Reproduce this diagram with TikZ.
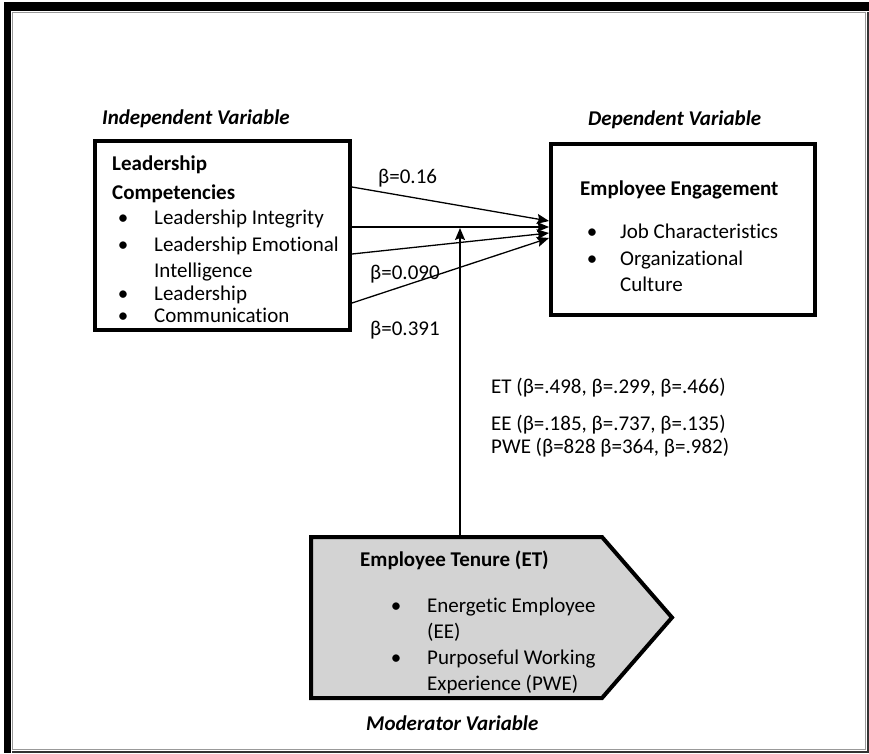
\documentclass[tikz,border=0pt]{standalone}
\usepackage{fontspec}
\setmainfont{Carlito}[Ligatures=NoCommon]
\usetikzlibrary{arrows.meta}
\definecolor{modfill}{RGB}{211,211,211}
\begin{document}
\begin{tikzpicture}[x=1pt,y=-1pt,
  txt/.style={anchor=base west, inner sep=0pt, font=\fontsize{21}{25}\selectfont},
  hd/.style={anchor=base west, inner sep=0pt, font=\fontsize{21}{25}\selectfont\bfseries},
  vt/.style={anchor=base west, inner sep=0pt, font=\fontsize{21}{25}\selectfont\bfseries\itshape},
  bul/.style={anchor=base, inner sep=0pt, font=\fontsize{21}{25}\selectfont},
  box/.style={draw, line width=4pt, inner sep=0pt, anchor=north west},
  link/.style={line width=1.3pt, -{Stealth[length=12pt,width=10pt,inset=2pt]}}]
\useasboundingbox (0,0) rectangle (869,753);

% frame with heavy top-left edge
\fill[black] (4,2) rectangle (869,11);
\fill[black] (4,2) rectangle (11,753);
\draw[black!40, line width=1.5pt] (12.5,12.5) rectangle (865.5,749.5);
\draw[black!80, line width=2pt] (867.5,12) -- (867.5,752) -- (12,752);

% variable titles
\node[vt] (ivt) at (102,124) {Independent Variable};
\node[vt] (dvt) at (588,125) {Dependent Variable};
\node[vt] (mvt) at (366,730) {Moderator Variable};

% independent variable box
\node[box, minimum width=255pt, minimum height=189pt] (lc) at (93,139) {};
\node[hd] (lc1) at (112,170) {Leadership};
\node[hd] (lc2) at (112,199) {Competencies};
\node[bul] (lb1) at (123,224) {•};
\node[txt] (lt1) at (154,224) {Leadership Integrity};
\node[bul] (lb2) at (123,251) {•};
\node[txt] (lt2) at (154,251) {Leadership Emotional};
\node[txt] (lt3) at (154,277) {Intelligence};
\node[bul] (lb3) at (123,300) {•};
\node[txt] (lt4) at (154,300) {Leadership};
\node[bul] (lb4) at (123,322) {•};
\node[txt] (lt5) at (154,322) {Communication};

% dependent variable box
\node[box, minimum width=264pt, minimum height=171pt] (ee) at (549,142) {};
\node[hd] (ee1) at (580,195) {Employee Engagement};
\node[bul] (eb1) at (592,238) {•};
\node[txt] (et1) at (620,238) {Job Characteristics};
\node[bul] (eb2) at (592,265) {•};
\node[txt] (et2) at (620,265) {Organizational};
\node[txt] (et3) at (620,291) {Culture};

% paths from the competencies to engagement
\draw[link] (lc.east |- 0,187) -- (ee.west |- 0,221);
\draw[link] (lc.east |- 0,227) -- (ee.west |- 0,227);
\draw[link] (lc.east |- 0,254) -- (ee.west |- 0,233);
\draw[link] (lc.east |- 0,303) -- (ee.west |- 0,238);

\node[txt] (b1) at (378,183) {β=0.16};
\node[txt] (b2) at (370,279) {β=0.090};
\node[txt] (b3) at (370,335) {β=0.391};

% moderator
\coordinate (etTop) at (460,537);
\coordinate (midLink) at (460,228);
\filldraw[fill=modfill, draw=black, line width=4pt, line join=miter]
  (311,537) -- (602,537) -- (672,617.5) -- (602,698) -- (311,698) -- cycle;
\node[hd] (mt) at (360,566) {Employee Tenure (ET)};
\node[bul] (mb1) at (396,612) {•};
\node[txt] (mt1) at (427,612) {Energetic Employee};
\node[txt] (mt2) at (427,638) {(EE)};
\node[bul] (mb2) at (396,664) {•};
\node[txt] (mt3) at (427,664) {Purposeful Working};
\node[txt] (mt4) at (427,690) {Experience (PWE)};

\draw[link] (etTop) -- (midLink);

\node[txt] (m1) at (491,393) {ET (β=.498, β=.299, β=.466)};
\node[txt] (m2) at (491,430) {EE (β=.185, β=.737, β=.135)};
\node[txt] (m3) at (491,453) {PWE (β=828 β=364, β=.982)};
\end{tikzpicture}
\end{document}
